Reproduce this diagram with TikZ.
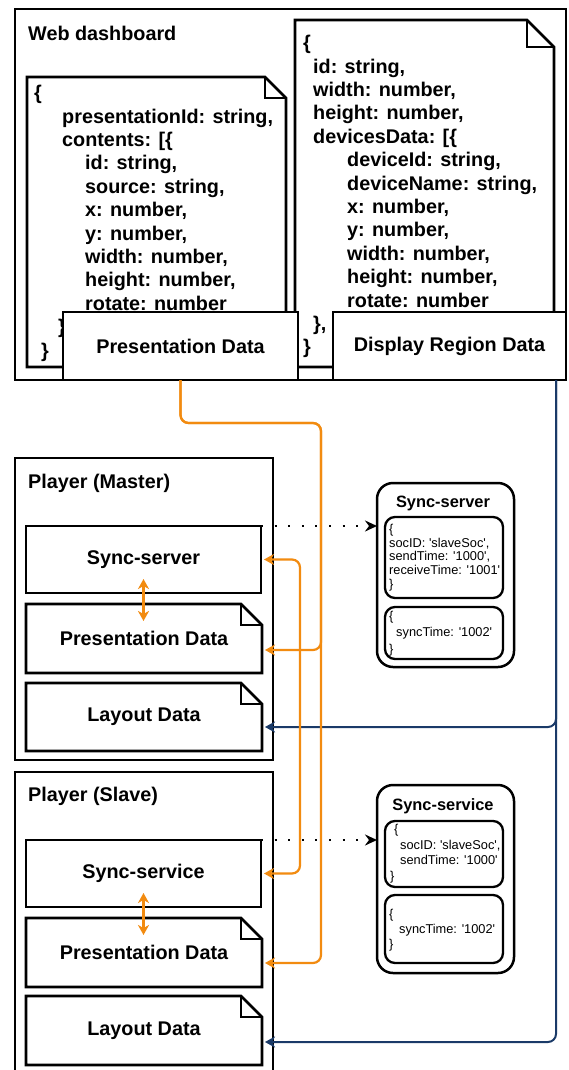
\documentclass[tikz,border=0pt]{standalone}
\usepackage{fontspec}
\setmainfont{Liberation Sans}
\newfontfamily\jsonfont[Ligatures=TeXOff]{Liberation Sans}
\usetikzlibrary{arrows.meta,calc}
\pgfdeclarelayer{paper}
\pgfdeclarelayer{bg}
\pgfsetlayers{paper,bg,main}

\definecolor{flowor}{RGB}{242,139,16}
\definecolor{flowbl}{RGB}{26,58,104}

\newcommand\lblfont{\fontsize{19.8}{23.4}\selectfont\bfseries}
\newcommand\jq{'}

% folded-corner document outline around a named node: #2 = node, #3 = fold size
\newcommand\docoutline[3][]{%
  \begin{pgfonlayer}{bg}
    \draw[docline,#1] (#2.north west) -- ([xshift=-#3]#2.north east)
      -- ([yshift=-#3]#2.north east) -- (#2.south east) -- (#2.south west) -- cycle;
    \draw[docline,fill=none] ([xshift=-#3]#2.north east) |- ([yshift=-#3]#2.north east);
  \end{pgfonlayer}}

\begin{document}
\begin{tikzpicture}[x=1pt,y=-1pt,
  box/.style={draw=black, line width=2.8pt, fill=white, inner sep=0pt, outer sep=0pt, font=\lblfont},
  frame/.style={box, fill=none},
  doc/.style={inner sep=0pt, outer sep=0pt, font=\lblfont},
  docline/.style={draw=black, line width=2.8pt, fill=white},
  title/.style={inner sep=0pt, anchor=west, font=\fontsize{19.8}{23.4}\selectfont\bfseries},
  codetxt/.style={inner sep=0pt, anchor=west, align=left, font=\fontsize{19.8}{23.4}\selectfont\bfseries},
  rbox/.style={draw=black, line width=2.5pt, rounded corners=16pt, fill=white, inner sep=0pt, outer sep=0pt},
  rin/.style={draw=black, line width=2.3pt, rounded corners=10pt, inner sep=0pt, outer sep=0pt},
  rtitle/.style={inner sep=0pt, font=\fontsize{16.4}{18}\selectfont\bfseries},
  jsontxt/.style={inner sep=0pt, anchor=west, align=left},
  oflow/.style={draw=flowor, line width=2.2pt, rounded corners=8pt},
  otip/.style={-{Stealth[length=10pt,width=11pt,inset=3pt]}, shorten >=3pt},
  obothtip/.style={{Stealth[length=10pt,width=11pt,inset=3pt]}-{Stealth[length=10pt,width=11pt,inset=3pt]}},
  bflow/.style={draw=flowbl, line width=2pt, rounded corners=8pt,
    -{Stealth[length=10pt,width=11pt,inset=3pt]}, shorten >=3pt},
  dotflow/.style={draw=black, line width=2pt, dash pattern=on 2pt off 11.6pt,
    -{Stealth[length=12pt,width=11pt,inset=4pt]}}
]
\begin{pgfonlayer}{paper}
  \fill[white] (0,0) rectangle (568,1070);
\end{pgfonlayer}
\useasboundingbox (0,0) rectangle (568,1070);

% ---------- Web dashboard ----------
\node[frame, minimum width=551pt, minimum height=371pt] (dash) at (290.5,194.5) {};
\node[title] (dashtitle) at (28,33) {Web dashboard};

\node[doc, minimum width=259pt, minimum height=290pt] (ldoc) at (156.5,222) {};
\docoutline{ldoc}{21pt}
\node[doc, minimum width=259pt, minimum height=347pt] (rdoc) at (424.5,193.5) {};
\docoutline{rdoc}{27pt}

\node[codetxt] (ltext) at (34,223.3) {\{\\
\hspace*{28pt}presentationId: string,\\
\hspace*{28pt}contents: [\{\\
\hspace*{51pt}id: string,\\
\hspace*{51pt}source: string,\\
\hspace*{51pt}x: number,\\
\hspace*{51pt}y: number,\\
\hspace*{51pt}width: number,\\
\hspace*{51pt}height: number,\\
\hspace*{51pt}rotate: number\\
\hspace*{24pt}\}\\
\hspace*{7pt}\}};

\node[codetxt] (rtext) at (303,196.7) {\{\\
\hspace*{10pt}id: string,\\
\hspace*{10pt}width: number,\\
\hspace*{10pt}height: number,\\
\hspace*{10pt}devicesData: [\{\\
\hspace*{44pt}deviceId: string,\\
\hspace*{44pt}deviceName: string,\\
\hspace*{44pt}x: number,\\
\hspace*{44pt}y: number,\\
\hspace*{44pt}width: number,\\
\hspace*{44pt}height: number,\\
\hspace*{44pt}rotate: number\\
\hspace*{10pt}\},\\
\}};

\node[box, minimum width=235pt, minimum height=68pt] (pd) at (180.5,346) {Presentation Data};
\node[box, minimum width=233pt, minimum height=68pt] (drd) at (449.5,346) {Display Region Data};

% ---------- Player (Master) ----------
\node[frame, minimum width=258pt, minimum height=302pt] (master) at (144,609) {};
\node[title] (mtitle) at (28,483) {Player (Master)};
\node[box, minimum width=235pt, minimum height=67pt] (msync) at (143.5,559.5) {Sync-server};
\node[doc, minimum width=236pt, minimum height=69pt] (mpres) at (144,638.5) {Presentation Data};
\docoutline{mpres}{21pt}
\node[doc, minimum width=236pt, minimum height=68pt] (mlayout) at (144,717) {Layout Data};
\docoutline{mlayout}{21pt}

% ---------- Player (Slave) ----------
\node[frame, minimum width=258pt, minimum height=304pt] (slave) at (144,924) {};
\node[title] (stitle) at (28,796) {Player (Slave)};
\node[box, minimum width=235pt, minimum height=67pt] (ssync) at (143.5,873.5) {Sync-service};
\node[doc, minimum width=236pt, minimum height=69pt] (spres) at (144,952.5) {Presentation Data};
\docoutline{spres}{21pt}
\node[doc, minimum width=236pt, minimum height=69pt] (slayout) at (144,1030.5) {Layout Data};
\docoutline{slayout}{21pt}

% ---------- message panels ----------
\node[rbox, minimum width=137pt, minimum height=184pt] (srv) at (445.5,575) {};
\node[rtitle] (srvtitle) at (443,503) {Sync-server};
\node[rin, minimum width=118pt, minimum height=81pt] (srvin1) at (444,557.5) {};
\node[rin, minimum width=118pt, minimum height=52pt] (srvin2) at (444,633) {};
\node[jsontxt, font=\jsonfont\fontsize{12.8}{13.75}\selectfont] (srvt1) at (389,557.5)
  {\{\\socID: \jq slaveSoc\jq,\\sendTime: \jq 1000\jq,\\receiveTime: \jq 1001\jq\\\}};
\node[jsontxt, font=\jsonfont\fontsize{12.8}{16.5}\selectfont] (srvt2) at (389,633.5)
  {\{\\\hspace*{7pt}syncTime: \jq 1002\jq\\\}};

\node[rbox, minimum width=137pt, minimum height=188pt] (svc) at (445.5,879) {};
\node[rtitle] (svctitle) at (443,806) {Sync-service};
\node[rin, minimum width=118pt, minimum height=66pt] (svcin1) at (444,854) {};
\node[rin, minimum width=118pt, minimum height=68pt] (svcin2) at (444,929) {};
\node[jsontxt, font=\jsonfont\fontsize{12.8}{15.6}\selectfont] (svct1) at (390,853.5)
  {\hspace*{4pt}\{\\\hspace*{10pt}socID: \jq slaveSoc\jq,\\\hspace*{10pt}sendTime: \jq 1000\jq\\\}};
\node[jsontxt, font=\jsonfont\fontsize{12.8}{15}\selectfont] (svct2) at (389,930)
  {\{\\\hspace*{10pt}syncTime: \jq 1002\jq\\\}};

% ---------- connectors ----------
\coordinate (bx) at (556,0);
\coordinate (bm) at (0,727);
\coordinate (bs) at (0,1042);
\draw[bflow] (drd.south -| bx) -- (bx |- bm) -- (mlayout.east |- bm);
\draw[bflow] (drd.south -| bx) -- (bx |- bs) -- (slayout.east |- bs);

\coordinate (ox) at (321,423);
\coordinate (om) at (0,650);
\coordinate (os) at (0,963);
\draw[oflow, otip] (pd.south) -- (pd.south |- ox) -- (ox) -- (ox |- om) -- (mpres.east |- om);
\draw[oflow, otip] (pd.south) -- (pd.south |- ox) -- (ox) -- (ox |- os) -- (spres.east |- os);

\coordinate (sx) at (300,0);
\draw[oflow, obothtip, shorten <=3pt, shorten >=3pt]
  (msync.east) -- (msync.east -| sx) -- (sx |- ssync.east) -- (ssync.east);

\draw[oflow, obothtip, shorten <=-14pt, shorten >=-17pt] (msync.south) -- (msync.south |- mpres.north);
\draw[oflow, obothtip, shorten <=-14pt, shorten >=-17pt] (ssync.south) -- (ssync.south |- spres.north);

\draw[dotflow] (msync.north east) -- (msync.north east -| srv.west);
\draw[dotflow] (ssync.north east) -- (ssync.north east -| svc.west);
\end{tikzpicture}
\end{document}
